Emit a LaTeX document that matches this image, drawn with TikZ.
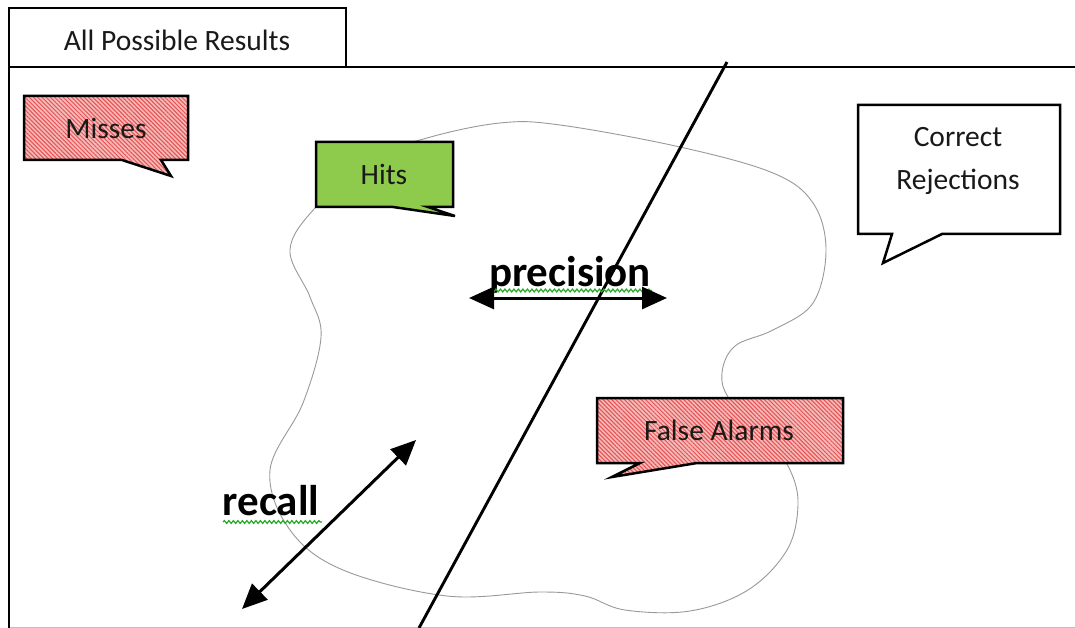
\documentclass[tikz,border=0pt]{standalone}
\usepackage{fontspec}
\setmainfont{Carlito}
\usetikzlibrary{arrows.meta,patterns.meta,decorations.pathmorphing}
\definecolor{pinkbg}{RGB}{246,184,184}
\definecolor{hatch}{RGB}{228,82,82}
\definecolor{hitsgreen}{RGB}{142,203,76}
\definecolor{txt}{RGB}{25,25,25}
\definecolor{squig}{RGB}{40,170,40}
\tikzset{
  frameline/.style={line width=2.9pt, line cap=rect},
  callout/.style={draw, line width=2.5pt, line join=miter},
  redcall/.style={callout, preaction={fill=pinkbg},
     preaction={pattern={Lines[angle=-45,distance=3pt,line width=1pt]}, pattern color=hatch}},
  greencall/.style={callout, fill=hitsgreen},
  whitecall/.style={callout, fill=white},
  lbl/.style={text=txt, font=\fontsize{29.5}{43}\selectfont, align=center, inner sep=0pt},
  bold/.style={text=black, font=\fontsize{43}{50}\selectfont\bfseries, inner sep=0pt, anchor=base},
  arr/.style={line width=3pt, {Triangle[length=25pt,width=22pt]}-{Triangle[length=25pt,width=22pt]}},
  wave/.style={squig, line width=1.2pt, decorate, decoration={snake, amplitude=1.4pt, segment length=4.5pt}},
  blob/.style={draw=black!40, line width=0.9pt}
}
\begin{document}
\begin{tikzpicture}[x=1pt,y=-1pt]
\useasboundingbox (0,0) rectangle (1075,628);
\fill[white] (0,0) rectangle (1075,628);

% outer frame and tab
\draw[black!25, line width=1pt] (9,627) -- (1075,627);
\draw[frameline] (9,628) -- (9,67) -- (1075,67);
\draw[frameline] (9,67) -- (9,8) -- (346,8) -- (346,67);
\node[lbl] (tab) at (177,40) {All Possible Results};

% blob
\draw[blob] plot[smooth cycle, tension=0.6] coordinates {
 (427,138) (500,123) (560,125) (680,147) (773,173) (813,203) (826,250)
 (813,303) (773,330) (735,346) (722,373) (730,400) (768,440) (790,470)
 (798,505) (787,550) (748,590) (690,611) (625,610) (585,596) (540,592)
 (447,596) (343,570) (290,530) (270,470) (303,403) (321,337) (310,297)
 (290,250) (315,208) (370,160)};

% diagonal divider
\coordinate (dtop) at (727,62);
\coordinate (dbot) at (419,628);
\draw[line width=2.9pt] (dtop) -- (dbot);

% callouts
\draw[redcall] (24,96) -- (188,96) -- (188,160) -- (161,160) -- (171,176) -- (122,160) -- (24,160) -- cycle;
\node[lbl] (misses) at (106,128) {Misses};

\draw[greencall] (316,142) -- (453,142) -- (453,207) -- (428,207) -- (455,216) -- (393,207) -- (316,207) -- cycle;
\node[lbl] (hits) at (384,174) {Hits};

\draw[whitecall] (858,105) -- (1060,105) -- (1060,234) -- (942,234) -- (883,263) -- (892,234) -- (858,234) -- cycle;
\node[lbl] (cr) at (958,161) {Correct\\Rejections};

\draw[redcall] (597,398) -- (843,398) -- (843,463) -- (697,463) -- (612,477) -- (640,463) -- (597,463) -- cycle;
\node[lbl] (fa) at (719,430) {False Alarms};

% precision
\node[bold] (prec) at (570,286) {precision};
\draw[wave] (490,290.5) -- (652,290.5);
\coordinate (pl) at (469,298);
\coordinate (pr) at (667,298);
\draw[arr] (pl) -- (pr);

% recall
\node[bold] (rec) at (271,515) {recall};
\draw[wave] (223,522) -- (322,522);
\coordinate (ru) at (416,440);
\coordinate (rd) at (242,609);
\draw[arr] (ru) -- (rd);
\end{tikzpicture}
\end{document}
